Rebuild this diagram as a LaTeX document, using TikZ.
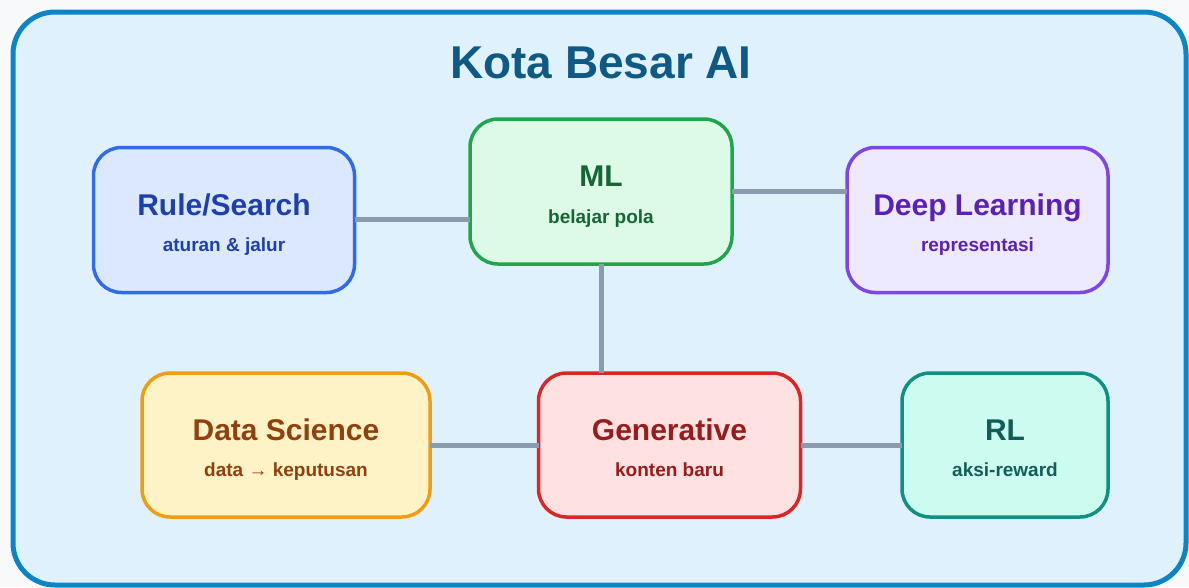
\documentclass[tikz,border=0pt]{standalone}
\usepackage{fontspec}
\setmainfont{Liberation Sans}
\usetikzlibrary{calc}

% palette
\definecolor{pagebg}{HTML}{F8F9FB}
\definecolor{framefill}{HTML}{E0F1FE}
\definecolor{framedraw}{HTML}{0B84C8}
\definecolor{titlecol}{HTML}{0E5A85}
\definecolor{linkcol}{HTML}{8A9BB0}
\definecolor{ruleF}{HTML}{DBE8FD}\definecolor{ruleD}{HTML}{2F6DE8}\definecolor{ruleT}{HTML}{1E40AF}
\definecolor{mlF}{HTML}{DCFAE6}\definecolor{mlD}{HTML}{1FA64A}\definecolor{mlT}{HTML}{166534}
\definecolor{dlF}{HTML}{EDE9FE}\definecolor{dlD}{HTML}{7E45EA}\definecolor{dlT}{HTML}{5B21B6}
\definecolor{dsF}{HTML}{FEF3C7}\definecolor{dsD}{HTML}{F29D0F}\definecolor{dsT}{HTML}{92400E}
\definecolor{genF}{HTML}{FEE2E2}\definecolor{genD}{HTML}{DC2626}\definecolor{genT}{HTML}{991B1B}
\definecolor{rlF}{HTML}{CCFBEF}\definecolor{rlD}{HTML}{0F9080}\definecolor{rlT}{HTML}{115E59}

\tikzset{
  topic/.style n args={4}{draw=#1, fill=#2, line width=3.5pt, rounded corners=28pt,
    minimum width=#3, minimum height=#4, inner sep=0pt, outer sep=0pt},
  headtext/.style={anchor=base, inner sep=0pt, text=#1,
    font=\fontsize{30}{35}\selectfont\bfseries},
  subtext/.style={anchor=base, inner sep=0pt, text=#1,
    font=\fontsize{19}{23}\selectfont\bfseries},
  link/.style={draw=linkcol, line width=5pt},
}

\begin{document}
\begin{tikzpicture}[x=1pt, y=-1pt]
  \fill[pagebg] (0,0) rectangle (1189,587);
  \useasboundingbox (0,0) rectangle (1189,587);
  \draw[framedraw, fill=framefill, line width=5pt, rounded corners=42pt]
    (13,12) rectangle (1186,585);

  \node[anchor=base, text=titlecol, font=\fontsize{46}{52}\selectfont\bfseries]
    (title) at (601,78) {Kota Besar AI};

  % topic boxes
  \node[topic={ruleD}{ruleF}{261pt}{145pt}] (rule) at (224,220) {};
  \node[topic={mlD}{mlF}{262pt}{145pt}]     (ml)   at (601,191.5) {};
  \node[topic={dlD}{dlF}{261pt}{145pt}]     (dl)   at (977.5,220) {};
  \node[topic={dsD}{dsF}{288pt}{144pt}]     (ds)   at (286,445) {};
  \node[topic={genD}{genF}{262pt}{144pt}]   (gen)  at (669.5,445) {};
  \node[topic={rlD}{rlF}{206pt}{144pt}]     (rl)   at (1005,445) {};

  % box captions
  \node[headtext=ruleT] (ruleh) at ($(rule.center)+(0,-5)$) {Rule/Search};
  \node[subtext=ruleT]  (rules) at ($(rule.center)+(0,31.5)$) {aturan \& jalur};
  \node[headtext=mlT]   (mlh)   at ($(ml.center)+(0,-5)$) {ML};
  \node[subtext=mlT]    (mls)   at ($(ml.center)+(0,31.5)$) {belajar pola};
  \node[headtext=dlT]   (dlh)   at ($(dl.center)+(0,-5)$) {Deep Learning};
  \node[subtext=dlT]    (dls)   at ($(dl.center)+(0,31.5)$) {representasi};
  \node[headtext=dsT]   (dsh)   at ($(ds.center)+(0,-5)$) {Data Science};
  \node[subtext=dsT]    (dss)   at ($(ds.center)+(0,31.5)$) {data → keputusan};
  \node[headtext=genT]  (genh)  at ($(gen.center)+(0,-5)$) {Generative};
  \node[subtext=genT]   (gens)  at ($(gen.center)+(0,31.5)$) {konten baru};
  \node[headtext=rlT]   (rlh)   at ($(rl.center)+(0,-5)$) {RL};
  \node[subtext=rlT]    (rls)   at ($(rl.center)+(0,31.5)$) {aksi-reward};

  % connectors
  \draw[link] ($(rule.east)+(0,-1)$) -- ($(rule.east -| ml.west)+(0,-1)$);
  \draw[link] (ml.east) -- (ml.east -| dl.west);
  \draw[link] (ml.south) -- (ml.south |- gen.north);
  \draw[link] (ds.east) -- (gen.west);
  \draw[link] (gen.east) -- (rl.west);
\end{tikzpicture}
\end{document}
